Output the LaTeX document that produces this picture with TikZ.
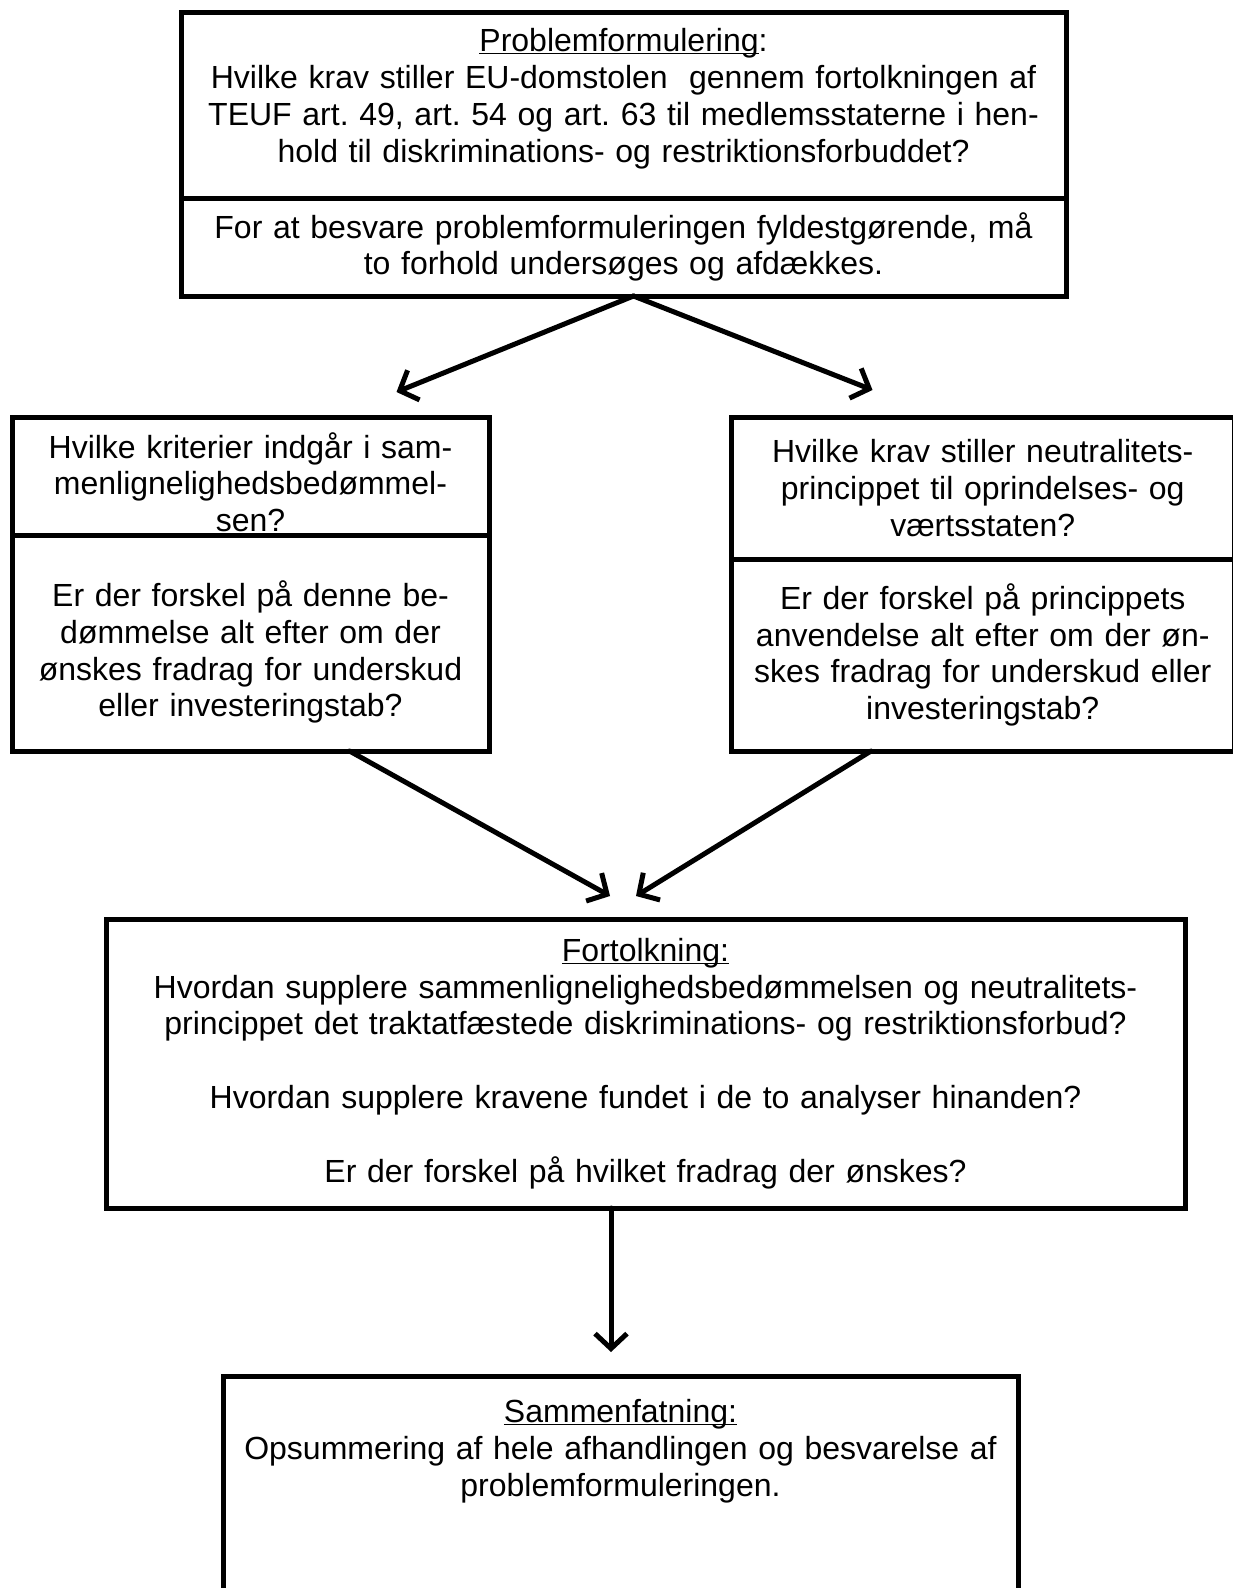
\documentclass[tikz,border=0pt]{standalone}
\usepackage{fontspec}
\setmainfont{Liberation Sans}
\usetikzlibrary{arrows.meta, positioning}

\tikzset{
  box/.style={draw, line width=5pt, outer sep=0pt, inner sep=0pt, align=center,
    anchor=north, font=\fontsize{32}{36.8}\selectfont},
  flow/.style={->, >={Straight Barb[length=15pt,width=32pt]}, line width=5pt, line cap=round},
}
\newcommand{\headline}[1]{\underline{\raisebox{0pt}[\height][0pt]{#1}}}
\frenchspacing

\begin{document}
\begin{tikzpicture}[x=1pt, y=-1pt, node distance=0pt]
\useasboundingbox (0,0) rectangle (1233,1588);
\clip (0,0) rectangle (1233,1588);

% problem
\node (prob) [box, text width=885pt, minimum height=186pt] at (623.5,12)
  {\headline{Problemformulering}:\\
   Hvilke krav stiller EU-domstolen\ \ gennem fortolkningen af\\
   TEUF art. 49, art. 54 og art. 63 til medlemsstaterne i hen-\\
   hold til diskriminations- og restriktionsforbuddet?\rule[-19pt]{0pt}{19pt}};
\node (probB) [box, text width=885pt, minimum height=98pt, below=of prob]
  {For at besvare problemformuleringen fyldestgørende, må\\
   to forhold undersøges og afdækkes.};

% the two analyses
\node (comp) [box, text width=477pt, minimum height=118pt] at (250.5,417)
  {\rule{0pt}{38pt}Hvilke kriterier indgår i sam-\\ menlignelighedsbedømmel-\\ sen?};
\node (compB) [box, text width=477pt, minimum height=216pt, below=of comp]
  {\rule{0pt}{44pt}Er der forskel på denne be-\\ dømmelse alt efter om der\\
   ønskes fradrag for underskud\\ eller investeringstab?};
\node (neut) [box, text width=503.5pt, minimum height=142pt] at (982.75,417)
  {Hvilke krav stiller neutralitets-\\ princippet til oprindelses- og\\ værtsstaten?};
\node (neutB) [box, text width=503.5pt, minimum height=192pt, below=of neut]
  {Er der forskel på princippets\\ anvendelse alt efter om der øn-\\
   skes fradrag for underskud eller\\ investeringstab?};

% interpretation and summary
\node (fort) [box, text width=1079pt, minimum height=289pt] at (645.5,919)
  {\headline{Fortolkning:}\\
   Hvordan supplere sammenlignelighedsbedømmelsen og neutralitets-\\
   princippet det traktatfæstede diskriminations- og restriktionsforbud?\\[36.8pt]
   Hvordan supplere kravene fundet i de to analyser hinanden?\\[36.8pt]
   Er der forskel på hvilket fradrag der ønskes?};
\node (summ) [box, text width=795pt, minimum height=300pt] at (620.5,1376)
  {\headline{Sammenfatning:}\\
   Opsummering af hele afhandlingen og besvarelse af\\
   problemformuleringen.\\[120pt]\mbox{}};

\coordinate (tipA) at (396.5,392);
\coordinate (tipB) at (872.5,390);
\coordinate (tipC) at (610,896);
\coordinate (tipD) at (636,896);
\coordinate (tipE) at (611,1352);

\draw[flow] ([xshift=10pt]probB.south) -- (tipA);
\draw[flow] ([xshift=10pt]probB.south) -- (tipB);
\draw[flow] ([xshift=99pt]compB.south) -- (tipC);
\draw[flow] ([xshift=-111.75pt]neutB.south) -- (tipD);
\draw[flow] ([xshift=-34.5pt]fort.south) -- (tipE);
\end{tikzpicture}
\end{document}
